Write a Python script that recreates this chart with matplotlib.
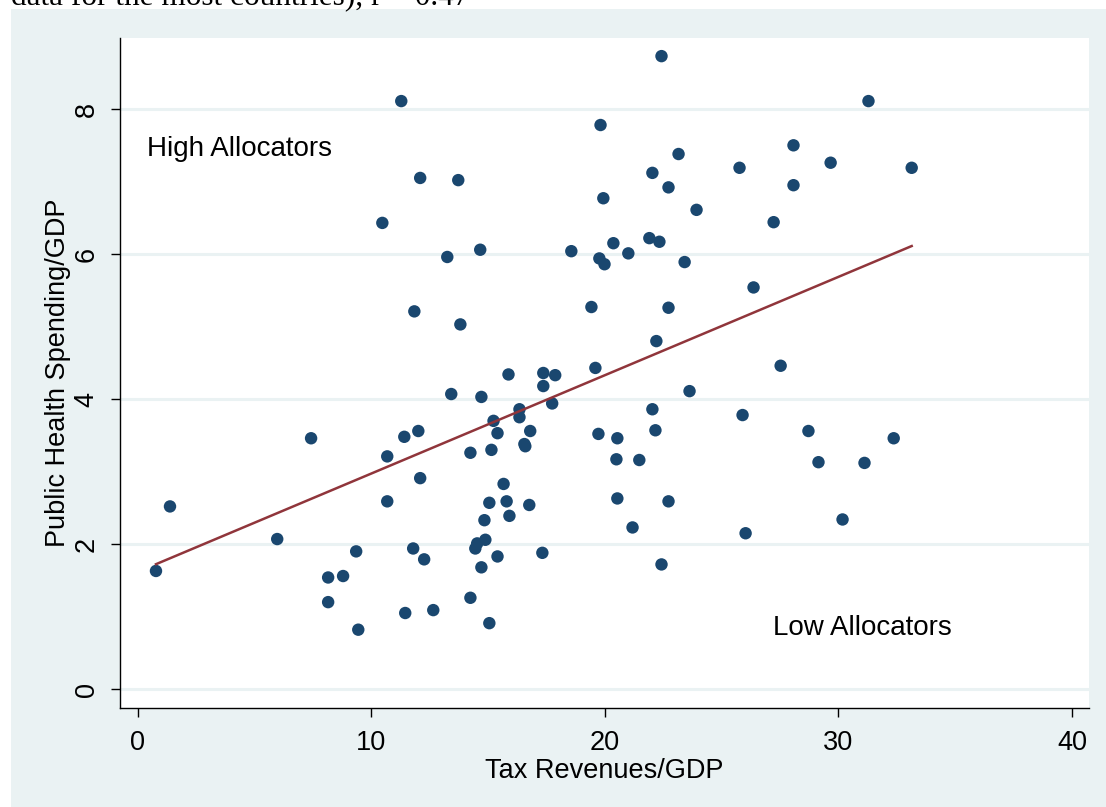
import matplotlib
matplotlib.use("Agg")
import matplotlib.pyplot as plt
import numpy as np
from matplotlib.patches import Rectangle

# ---- data ----
tax_revenues = [0.79, 1.39, 5.98, 7.43, 8.16, 8.80, 8.16, 9.36, 9.45, 10.48,
                10.69, 10.69, 11.29, 11.42, 11.46, 11.80, 11.85, 12.02, 12.10, 12.10,
                12.27, 12.66, 13.26, 13.43, 13.73, 13.82, 14.25, 14.25, 14.46, 14.54,
                14.67, 14.72, 14.72, 14.85, 14.89, 15.06, 15.06, 15.15, 15.24, 15.41,
                15.41, 15.67, 15.80, 15.88, 15.92, 16.35, 16.35, 16.56, 16.60, 16.77,
                16.81, 17.33, 17.37, 17.37, 17.75, 17.88, 18.57, 19.43, 19.60, 19.73,
                19.77, 19.82, 19.94, 19.99, 20.37, 20.54, 20.50, 20.54, 21.01, 21.19,
                21.48, 21.91, 22.04, 22.04, 22.17, 22.21, 22.34, 22.43, 22.43, 22.73,
                22.73, 22.73, 23.16, 23.42, 23.63, 23.93, 25.77, 25.90, 26.03, 26.37,
                27.23, 27.53, 28.08, 28.08, 28.72, 29.15, 29.67, 30.18, 31.12, 31.29,
                32.37, 33.14]
health_spending = [1.63, 2.52, 2.07, 3.46, 1.54, 1.56, 1.20, 1.90, 0.82, 6.43,
                   3.21, 2.59, 8.11, 3.48, 1.05, 1.94, 5.21, 3.56, 7.05, 2.91,
                   1.79, 1.09, 5.96, 4.07, 7.02, 5.03, 1.26, 3.26, 1.94, 2.01,
                   6.06, 4.03, 1.68, 2.33, 2.06, 2.57, 0.91, 3.30, 3.70, 3.53,
                   1.83, 2.83, 2.59, 4.34, 2.39, 3.75, 3.86, 3.38, 3.35, 2.54,
                   3.56, 1.88, 4.36, 4.18, 3.94, 4.33, 6.04, 5.27, 4.43, 3.52,
                   5.94, 7.78, 6.77, 5.86, 6.15, 3.46, 3.17, 2.63, 6.01, 2.23,
                   3.16, 6.22, 7.12, 3.86, 3.57, 4.80, 6.17, 8.73, 1.72, 6.92,
                   5.26, 2.59, 7.38, 5.89, 4.11, 6.61, 7.19, 3.78, 2.15, 5.54,
                   6.44, 4.46, 7.50, 6.95, 3.56, 3.13, 7.26, 2.34, 3.12, 8.11,
                   3.46, 7.19]
x_ticks = [0, 10, 20, 30, 40]
y_ticks = [0, 2, 4, 6, 8]
x_title = "Tax Revenues/GDP"
y_title = "Public Health Spending/GDP"
annot_high = "High Allocators"
annot_low = "Low Allocators"
caption_text = "data for the most countries), r = 0.47"

# ---- figure ----
W, H = 1106, 807
fig = plt.figure(figsize=(W / 100, H / 100), dpi=100, facecolor="white")
BG = "#EAF2F3"
bg = Rectangle((11 / W, 0), 1 - 11 / W, 1 - 9 / H,
               transform=fig.transFigure, facecolor=BG,
               edgecolor="none", zorder=-10)
fig.patches.append(bg)
fig.text(11 / W, 1 - 5 / H, caption_text, family="Liberation Serif",
         fontsize=22.5, va="baseline", ha="left", color="black")

ax = fig.add_axes([120 / W, 1 - 708 / H, (1089 - 120) / W, (708 - 38) / H])
ax.set_facecolor("white")
ax.set_zorder(1)

xa = np.array(tax_revenues)
ya = np.array(health_spending)
ax.scatter(xa, ya, s=80, color="#1A476F", edgecolors="none", zorder=3)

slope, intercept = np.polyfit(xa, ya, 1)
xf = np.array([xa.min(), xa.max()])
ax.plot(xf, intercept + slope * xf, color="#90353B", lw=1.8, zorder=4)

ax.set_xlim(-0.75, 40.73)
ax.set_ylim(-0.26, 8.98)
ax.set_xticks(x_ticks)
ax.set_yticks(y_ticks)
ax.grid(axis="y", color=BG, lw=2.2, zorder=1)
ax.set_axisbelow(True)

for s in ["top", "right"]:
    ax.spines[s].set_visible(False)
for s in ["left", "bottom"]:
    ax.spines[s].set_color("black")
    ax.spines[s].set_linewidth(1.0)

fam = "Liberation Sans"
ax.tick_params(axis="both", direction="out", length=6.5, width=1.0,
               color="black", labelsize=19.5)
ax.tick_params(axis="x", pad=9)
ax.tick_params(axis="y", pad=8)
for lab in ax.get_xticklabels():
    lab.set_family(fam)
for lab in ax.get_yticklabels():
    lab.set_family(fam)
    lab.set_rotation(90)
    lab.set_va("center")

ax.set_xlabel(x_title, family=fam, fontsize=19.5, labelpad=2)
ax.set_ylabel(y_title, family=fam, fontsize=19.5, labelpad=2)

ax.text(0.4, 7.45, annot_high, family=fam, fontsize=20, va="center", ha="left")
ax.text(27.2, 0.84, annot_low, family=fam, fontsize=20, va="center", ha="left")

fig.savefig("out.png", dpi=100, facecolor="white")
